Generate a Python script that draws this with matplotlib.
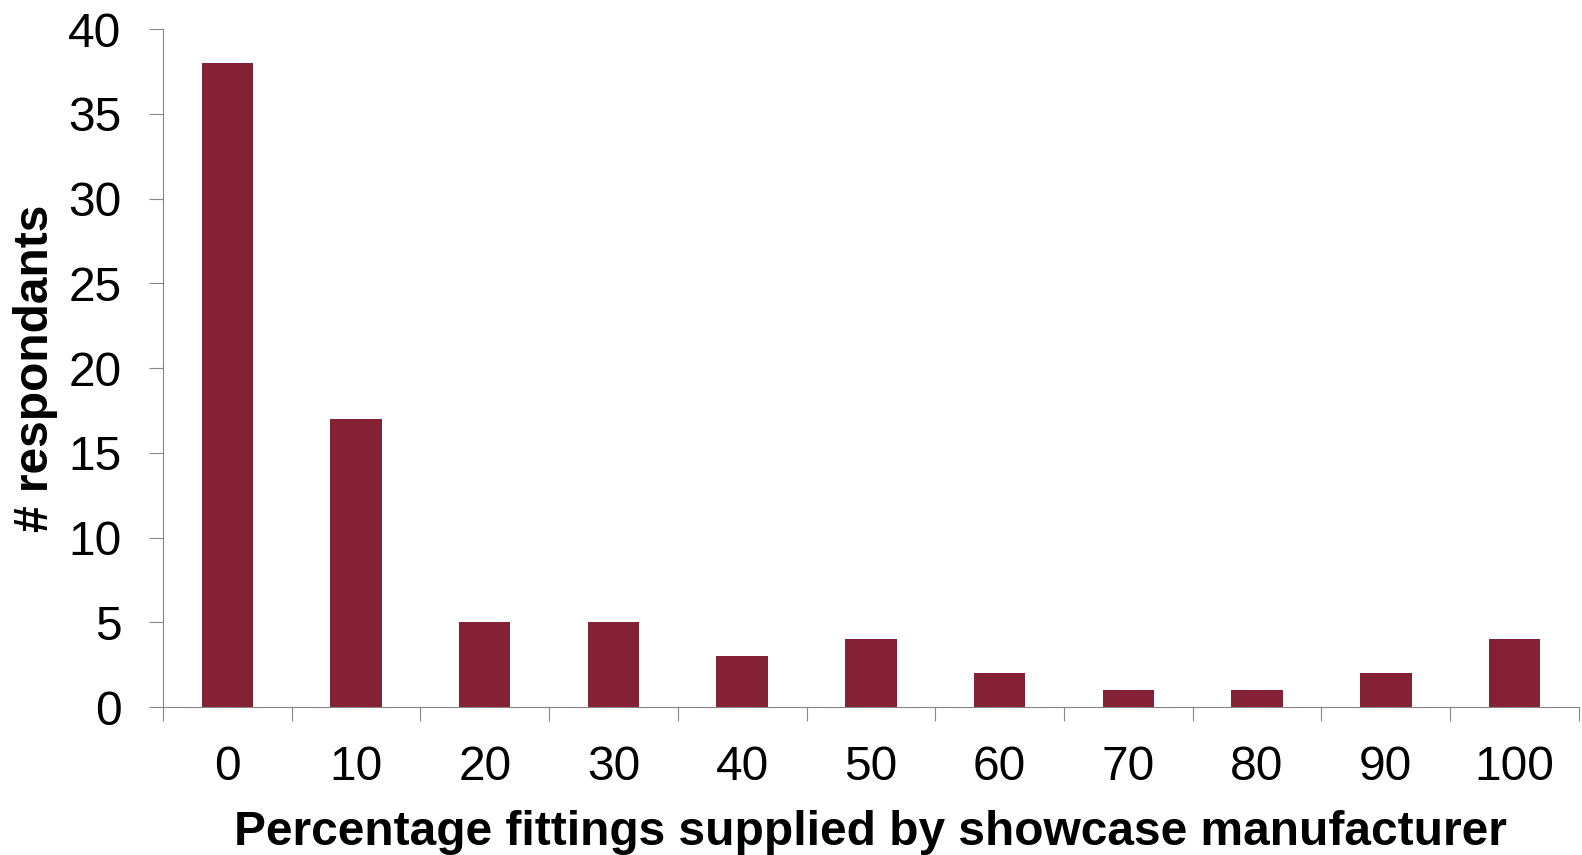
import numpy as np
import matplotlib
matplotlib.use("Agg")
import matplotlib.pyplot as plt

plt.rcParams['font.family'] = ['Liberation Sans', 'DejaVu Sans']

# percentage of fittings supplied by showcase manufacturer
categories = ['0', '10', '20', '30', '40', '50', '60', '70', '80', '90', '100']
respondants = [38, 17, 5, 5, 3, 4, 2, 1, 1, 2, 4]

bar_colour = '#842134'
axis_grey = '#868686'

fig = plt.figure(figsize=(15.82, 8.55), dpi=100)
ax = fig.add_axes([0.103, 0.173, 0.895, 0.793])

x = np.arange(len(categories))
ax.bar(x, respondants, width=0.4, color=bar_colour, zorder=2)

ax.set_xlim(-0.5, len(categories) - 0.5)
ax.set_ylim(0, 40)
ax.set_yticks(np.arange(0, 41, 5))

# labels centred on bars, tick marks on category boundaries
ax.set_xticks(x)
ax.set_xticklabels(categories)
ax.set_xticks(np.arange(-0.5, len(categories)), minor=True)
ax.tick_params(axis='x', which='major', length=0, pad=27, labelsize=34.5)
ax.tick_params(axis='x', which='minor', length=10, width=0.8, color=axis_grey)
ax.tick_params(axis='y', length=10, width=0.8, color=axis_grey, pad=20,
               labelsize=34.5)

for side in ['top', 'right']:
    ax.spines[side].set_visible(False)
for side in ['left', 'bottom']:
    ax.spines[side].set_color(axis_grey)
    ax.spines[side].set_linewidth(0.8)

ax.set_xlabel('Percentage fittings supplied by showcase manufacturer',
              fontsize=34.5, fontweight='bold', labelpad=15)
ax.set_ylabel('# respondants', fontsize=34.5, fontweight='bold', labelpad=7)

fig.savefig('out.png', dpi=100)
